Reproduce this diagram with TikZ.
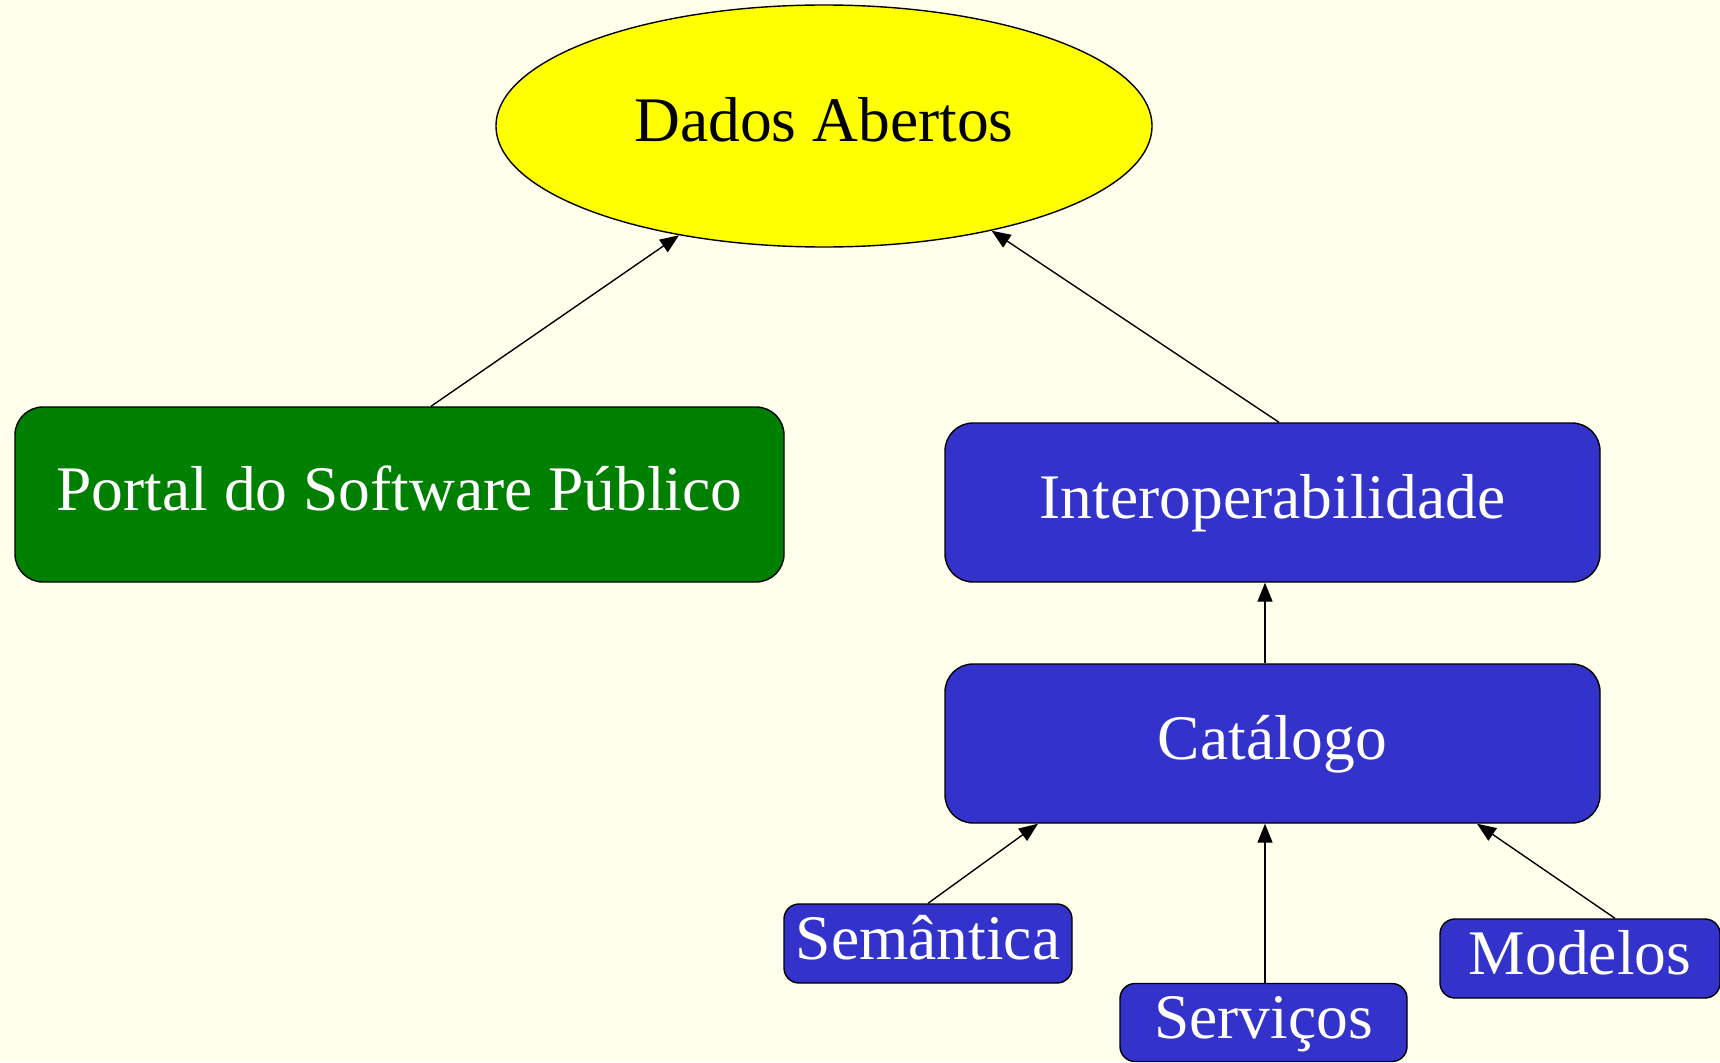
\documentclass[tikz,border=0pt]{standalone}
\usepackage{fontspec}
\setmainfont{Liberation Serif}
\usetikzlibrary{shapes.geometric,arrows.meta}
\definecolor{bg}{HTML}{FFFFEC}
\definecolor{boxblue}{HTML}{3333CC}
\definecolor{boxgreen}{HTML}{008000}
\definecolor{ellyellow}{HTML}{FFFF00}
\tikzset{
  txt/.style={font=\fontsize{63.5}{70}\selectfont, inner sep=0pt, text height=43pt, text depth=11pt},
  bigbox/.style={txt, draw=black, line width=1.4pt, rounded corners=28pt, text=white},
  smallbox/.style={txt, draw=black, line width=1.4pt, rounded corners=15pt, text=white, fill=boxblue},
  arr/.style={line width=1.4pt, -{Triangle[length=19pt,width=15pt]}}
}
\begin{document}
\begin{tikzpicture}[x=1pt,y=-1pt]
\fill[bg] (0,0) rectangle (1720,1062);
\useasboundingbox (0,0) rectangle (1720,1062);

\node[txt, ellipse, draw=black, line width=1.4pt, fill=ellyellow, minimum width=656pt, minimum height=242pt] (dados) at (824,126) {Dados Abertos};

\node[bigbox, fill=boxgreen, minimum width=769pt, minimum height=175pt] (portal) at (399.5,494.5) {Portal do Software Público};
\node[bigbox, fill=boxblue, minimum width=655pt, minimum height=159pt] (interop) at (1272.5,502.5) {Interoperabilidade};
\node[bigbox, fill=boxblue, minimum width=655pt, minimum height=159pt] (catalogo) at (1272.5,743.5) {Catálogo};

\node[smallbox, minimum width=288pt, minimum height=79pt] (semantica) at (928,943.5) {Semântica};
\node[smallbox, minimum width=287pt, minimum height=78pt] (servicos) at (1263.5,1022.5) {Serviços};
\node[smallbox, minimum width=280pt, minimum height=79pt] (modelos) at (1580,958.5) {Modelos};

\draw[arr] ([xshift=31.5pt]portal.north) -- (dados.217.5);
\draw[arr] ([xshift=6.5pt]interop.north) -- (dados.328);
\draw[arr] ([xshift=-7.5pt]catalogo.north) -- ([xshift=-7.5pt]interop.south);
\draw[arr] (semantica.north) -- ([xshift=-234.5pt]catalogo.south);
\draw[arr] ([xshift=1.5pt]servicos.north) -- ([xshift=-7.5pt]catalogo.south);
\draw[arr] ([xshift=35pt]modelos.north) -- ([xshift=204.5pt]catalogo.south);
\end{tikzpicture}
\end{document}
